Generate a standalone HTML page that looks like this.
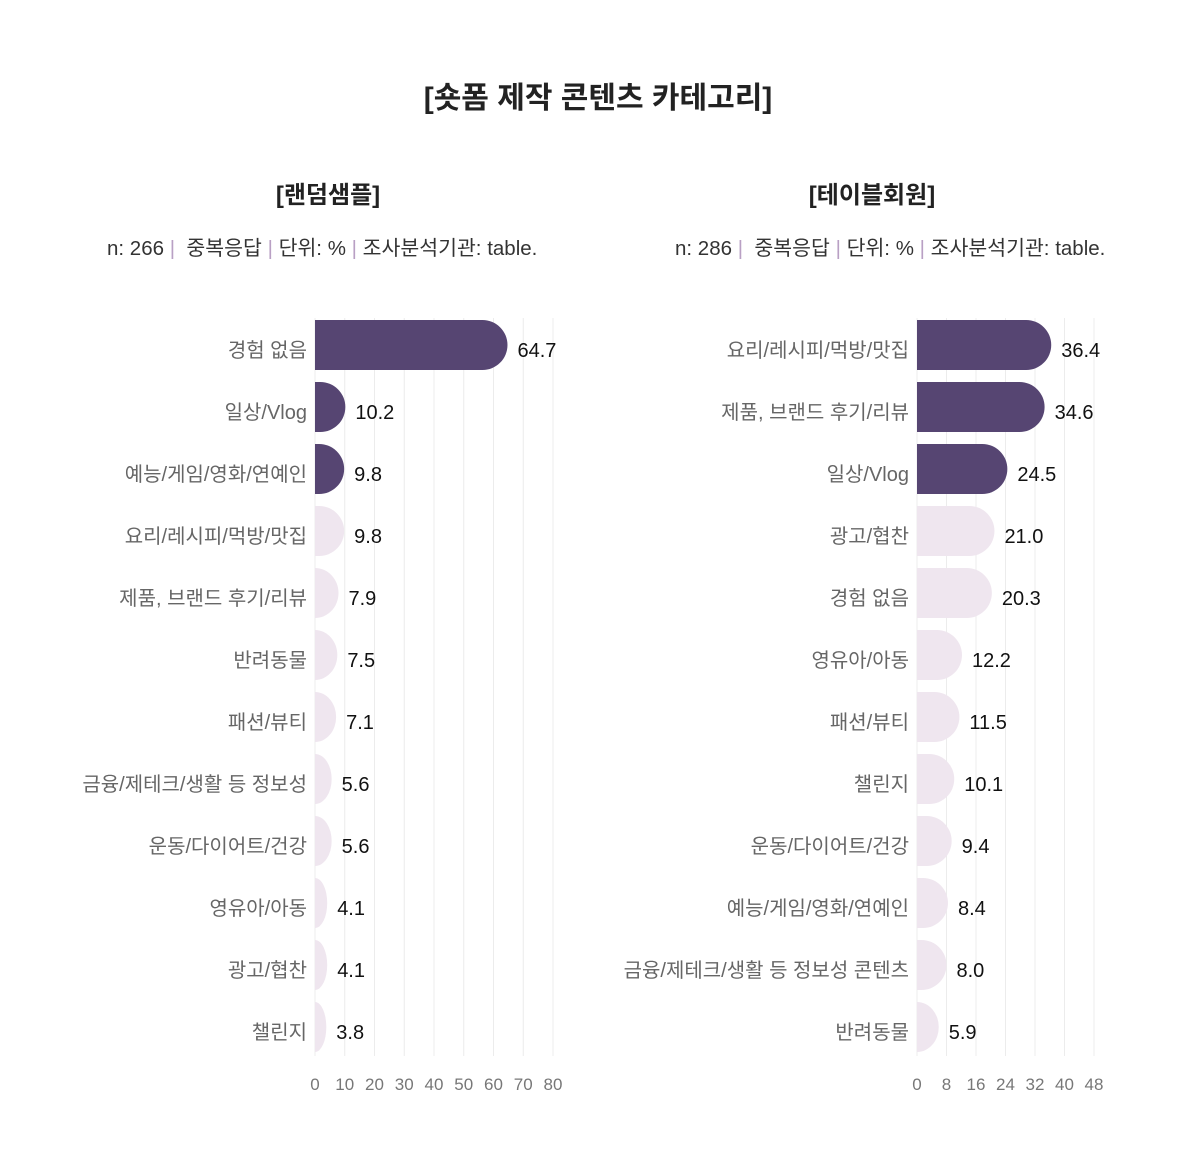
<!DOCTYPE html>
<html><head><meta charset="utf-8"><style>
body{margin:0;background:#fff}
svg{display:block;font-family:"Liberation Sans","Noto Sans CJK KR",sans-serif}
.cat{fill:#666;font-size:20px;text-anchor:end}
.val{fill:#111;font-size:20px}
.tk{fill:#777;font-size:17px;text-anchor:middle}
.g{stroke:#ececec;stroke-width:1}
.info{font-size:20.5px;fill:#333}
.sep{fill:#b9a0c4}
</style></head><body>
<svg width="1200" height="1164" viewBox="0 0 1200 1164">
<text x="598" y="108" text-anchor="middle" font-size="30" font-weight="bold" fill="#222">[숏폼 제작 콘텐츠 카테고리]</text>
<text x="328" y="203" text-anchor="middle" font-size="24" font-weight="bold" fill="#222">[랜덤샘플]</text>
<text x="872" y="203" text-anchor="middle" font-size="24" font-weight="bold" fill="#222">[테이블회원]</text>
<text x="107" y="255" class="info" xml:space="preserve">n: 266 <tspan class="sep">|</tspan>  중복응답 <tspan class="sep">|</tspan> 단위: % <tspan class="sep">|</tspan> 조사분석기관: table.</text>
<text x="675" y="255" class="info" xml:space="preserve">n: 286 <tspan class="sep">|</tspan>  중복응답 <tspan class="sep">|</tspan> 단위: % <tspan class="sep">|</tspan> 조사분석기관: table.</text>
<g id="L"></g><g id="R"></g>
</svg>
<script>
function chart(id,x0,scale,step,ticks,data){
  var g=document.getElementById(id),h='';
  for(var t=0;t<ticks.length;t++){var x=x0+ticks[t]*scale;
    h+='<line class="g" x1="'+x+'" y1="318" x2="'+x+'" y2="1056"/>';
    h+='<text class="tk" x="'+x+'" y="1090">'+ticks[t]+'</text>';}
  data.forEach(function(d,i){
    var top=320+62*i,w=d[1]*scale,r=Math.min(w,25);
    var col=i<3?'#564572':'#efe6ef';
    h+='<path fill="'+col+'" d="M'+x0+','+top+' h'+(w-r)+' a'+r+',25 0 0 1 '+r+',25 a'+r+',25 0 0 1 '+(-r)+',25 h'+(-(w-r))+' z"/>';
    h+='<text class="cat" x="'+(x0-8)+'" y="'+(top+37)+'">'+d[0]+'</text>';
    h+='<text class="val" x="'+(x0+w+10)+'" y="'+(top+37)+'">'+d[1].toFixed(1)+'</text>';
  });
  g.innerHTML=h;
}
chart('L',315,2.975,10,[0,10,20,30,40,50,60,70,80],[
['경험 없음',64.7],['일상/Vlog',10.2],['예능/게임/영화/연예인',9.8],['요리/레시피/먹방/맛집',9.8],
['제품, 브랜드 후기/리뷰',7.9],['반려동물',7.5],['패션/뷰티',7.1],['금융/제테크/생활 등 정보성',5.6],
['운동/다이어트/건강',5.6],['영유아/아동',4.1],['광고/협찬',4.1],['챌린지',3.8]]);
chart('R',917,3.6875,8,[0,8,16,24,32,40,48],[
['요리/레시피/먹방/맛집',36.4],['제품, 브랜드 후기/리뷰',34.6],['일상/Vlog',24.5],['광고/협찬',21.0],
['경험 없음',20.3],['영유아/아동',12.2],['패션/뷰티',11.5],['챌린지',10.1],
['운동/다이어트/건강',9.4],['예능/게임/영화/연예인',8.4],['금융/제테크/생활 등 정보성 콘텐츠',8.0],['반려동물',5.9]]);
</script>
</body></html>
